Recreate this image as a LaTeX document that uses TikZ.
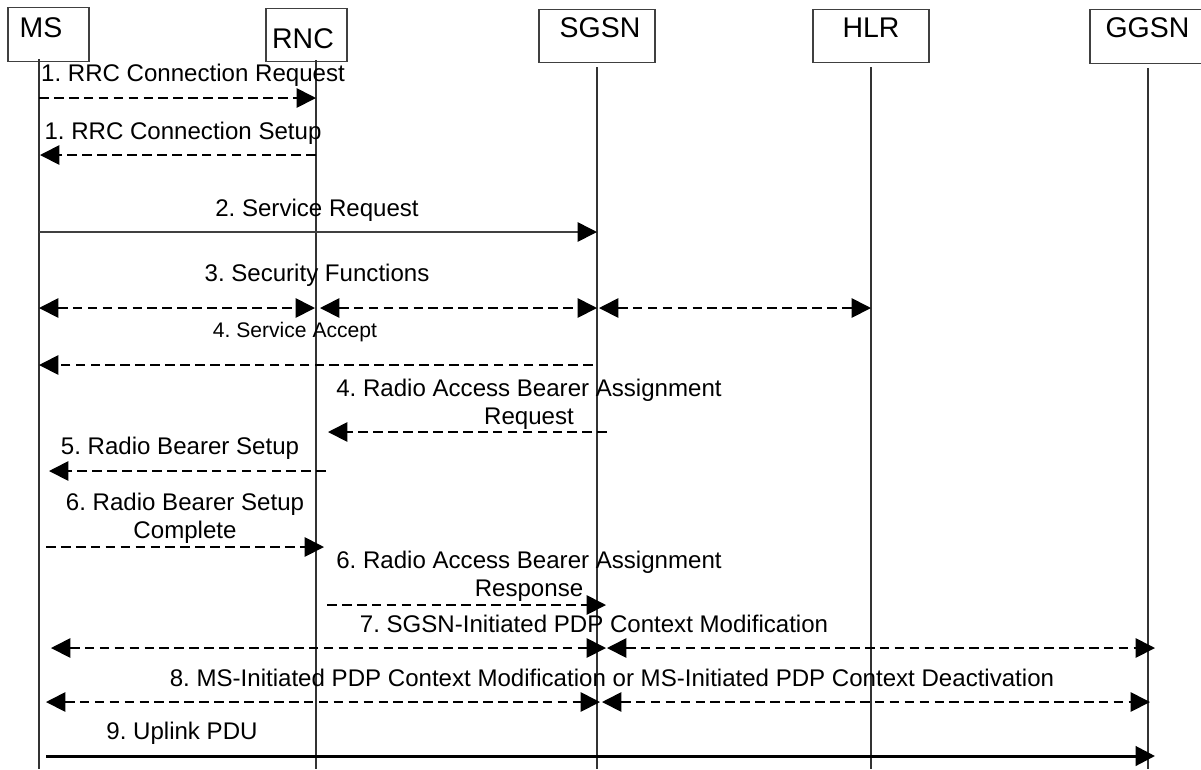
\documentclass[tikz,border=0pt]{standalone}
\usepackage{fontspec}
\setmainfont{Liberation Sans}
\usetikzlibrary{arrows.meta}
\usetikzlibrary{calc}
\frenchspacing

\begin{document}
\begin{tikzpicture}[x=0.02cm,y=-0.02cm]
\tikzset{>={Triangle[width=11pt,length=11pt]}}
\tikzstyle{entity}=[draw=black!75,line width=0.8pt,inner sep=0pt,minimum height=1.07cm]
\tikzstyle{etext}=[font=\fontsize{16.2}{19}\selectfont,inner sep=0pt,anchor=base]
\tikzstyle{life}=[draw=black!80,line width=0.6pt]
\tikzstyle{msg}=[line width=1pt,dash pattern=on 5.5pt off 3pt]
\tikzstyle{mtext}=[font=\fontsize{13.7}{16}\selectfont,inner sep=0pt,anchor=base]
\tikzstyle{mtwo}=[mtext,align=center,anchor=center]

\useasboundingbox (0,0) rectangle (1201,769);
\clip (0,0) rectangle (1201,769);

\node[entity,minimum width=1.62cm](ms) at (48.5,34.5){};
\node[entity,minimum width=1.62cm](rnc) at (306.5,35){};
\node[entity,minimum width=2.32cm](sgsn) at (597,36){};
\node[entity,minimum width=2.32cm](hlr) at (871,36){};
\node[entity,minimum width=2.32cm](ggsn) at (1148,36.5){};
\node[etext](mslabel) at (41,37){MS};
\node[etext](rnclabel) at (303,48){RNC};
\node[etext](sgsnlabel) at (600,37){SGSN};
\node[etext](hlrlabel) at (871,37){HLR};
\node[etext](ggsnlabel) at (1147.5,37){GGSN};

\coordinate (msL) at (39,59);
\coordinate (rncL) at (316,60);
\coordinate (sgsnL) at (597,67);
\coordinate (hlrL) at (871,67);
\coordinate (ggsnL) at (1148,68);
\draw[life] (msL) -- (msL |- 0,769);
\draw[life] (rncL) -- (rncL |- 0,769);
\draw[life] (sgsnL) -- (sgsnL |- 0,769);
\draw[life] (hlrL) -- (hlrL |- 0,769);
\draw[life] (ggsnL) -- (ggsnL |- 0,769);

\node[mtext](m1a) at (193,81){1. RRC Connection Request};
\draw[msg,->] (msL |- 0,98) -- (rncL |- 0,98);
\node[mtext](m1b) at (183,139){1. RRC Connection Setup};
\draw[msg,->] (rncL |- 0,155) -- ($(msL |- 0,155)+(1,0)$);
\node[mtext](m2) at (317,216){2. Service Request};
\draw[-{Triangle[width=11pt,length=11pt,black]},line width=0.9pt,black!75] (msL |- 0,232) -- (sgsnL |- 0,232);
\node[mtext](m3) at (317,281){3. Security Functions};
\draw[msg,<->] (msL |- 0,308) -- ($(rncL |- 0,308)+(-1,0)$);
\draw[msg,<->] ($(rncL |- 0,308)+(4,0)$) -- (sgsnL |- 0,308);
\draw[msg,<->] ($(sgsnL |- 0,308)+(2,0)$) -- (hlrL |- 0,308);
\node[mtext,font=\fontsize{12}{14}\selectfont](m4a) at (295,337){4. Service Accept};
\draw[msg,->] ($(sgsnL |- 0,365)+(-4,0)$) -- (msL |- 0,365);
\node[mtwo](m4b) at (529,404){4. Radio Access Bearer Assignment\\Request};
\draw[msg,->] ($(sgsnL |- 0,432)+(10,0)$) -- ($(rncL |- 0,432)+(12,0)$);
\node[mtext](m5) at (180,454){5. Radio Bearer Setup};
\draw[msg,->] ($(rncL |- 0,471)+(10,0)$) -- ($(msL |- 0,471)+(10,0)$);
\node[mtwo](m6a) at (185,518){6. Radio Bearer Setup\\Complete};
\draw[msg,->] ($(msL |- 0,547)+(7,0)$) -- ($(rncL |- 0,547)+(8,0)$);
\node[mtwo](m6b) at (529,576){6. Radio Access Bearer Assignment\\Response};
\draw[msg,->] ($(rncL |- 0,605)+(11,0)$) -- ($(sgsnL |- 0,605)+(9,0)$);
\node[mtext](m7) at (594,632){7. SGSN-Initiated PDP Context Modification};
\draw[msg,<->] ($(msL |- 0,648)+(12,0)$) -- ($(sgsnL |- 0,648)+(9,0)$);
\draw[msg,<->] ($(sgsnL |- 0,648)+(10,0)$) -- ($(ggsnL |- 0,648)+(7,0)$);
\node[mtext](m8) at (612,686){8. MS-Initiated PDP Context Modification or MS-Initiated PDP Context Deactivation};
\draw[msg,<->] ($(msL |- 0,702)+(7,0)$) -- ($(sgsnL |- 0,702)+(3,0)$);
\draw[msg,<->] ($(sgsnL |- 0,702)+(5,0)$) -- ($(ggsnL |- 0,702)+(2,0)$);
\node[mtext](m9) at (182,739){9. Uplink PDU};
\draw[->,line width=1.7pt] ($(msL |- 0,756)+(7,0)$) -- ($(ggsnL |- 0,756)+(7,0)$);
\end{tikzpicture}
\end{document}
